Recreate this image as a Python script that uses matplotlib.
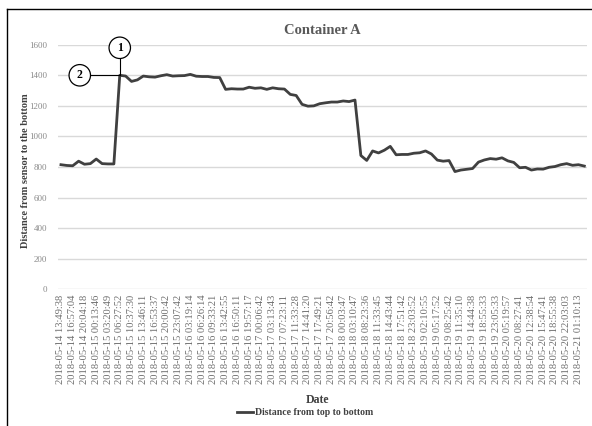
import numpy as np
import matplotlib
matplotlib.use('Agg')
import matplotlib.pyplot as plt
from matplotlib.lines import Line2D

plt.rcParams['font.family'] = ['Liberation Serif', 'DejaVu Serif']

# tick labels (every other reading is labelled)
tick_labels = [
    '2018-05-14 13:49:38', '2018-05-14 16:57:04', '2018-05-14 20:04:18',
    '2018-05-15 00:13:46', '2018-05-15 03:20:49', '2018-05-15 06:27:52',
    '2018-05-15 10:37:30', '2018-05-15 13:46:11', '2018-05-15 16:53:37',
    '2018-05-15 20:00:42', '2018-05-15 23:07:42', '2018-05-16 03:19:14',
    '2018-05-16 06:26:14', '2018-05-16 09:33:21', '2018-05-16 13:42:55',
    '2018-05-16 16:50:11', '2018-05-16 19:57:17', '2018-05-17 00:06:42',
    '2018-05-17 03:13:43', '2018-05-17 07:23:11', '2018-05-17 11:33:28',
    '2018-05-17 14:41:20', '2018-05-17 17:49:21', '2018-05-17 20:56:42',
    '2018-05-18 00:03:47', '2018-05-18 03:10:47', '2018-05-18 08:23:36',
    '2018-05-18 11:33:45', '2018-05-18 14:43:44', '2018-05-18 17:51:42',
    '2018-05-18 23:03:52', '2018-05-19 02:10:55', '2018-05-19 05:17:52',
    '2018-05-19 08:25:42', '2018-05-19 11:35:10', '2018-05-19 14:44:38',
    '2018-05-19 18:55:33', '2018-05-19 23:05:33', '2018-05-20 05:19:57',
    '2018-05-20 08:27:41', '2018-05-20 12:38:54', '2018-05-20 15:47:41',
    '2018-05-20 18:55:38', '2018-05-20 22:03:03', '2018-05-21 01:10:13',
]

# distance readings
distance = [
    815, 810, 808, 838, 818, 822, 852, 822, 820, 820,
    1400, 1395, 1360, 1370, 1395, 1390, 1388, 1397, 1404, 1395,
    1397, 1398, 1406, 1394, 1392, 1392, 1386, 1385, 1308, 1312,
    1310, 1310, 1322, 1315, 1318, 1308, 1318, 1312, 1310, 1275,
    1268, 1210, 1198, 1200, 1214, 1220, 1225, 1225, 1232, 1228,
    1238, 875, 843, 905, 892, 910, 935, 880, 882, 882,
    890, 893, 905, 885, 845, 838, 842, 770, 780, 785,
    790, 832, 846, 855, 851, 860, 840, 830, 795, 798,
    780, 787, 786, 798, 803, 815, 822, 811, 815, 806,
]

x = np.arange(len(distance))

fig = plt.figure(figsize=(5.92, 4.26), dpi=100)
ax = fig.add_axes([0.098, 0.321, 0.894, 0.574])

ax.plot(x, distance, color='#404040', lw=2, solid_joinstyle='round')

ax.set_xlim(-0.5, len(distance) - 0.5)
ax.set_ylim(0, 1600)
ax.set_yticks(np.arange(0, 1601, 200))
ax.set_xticks(x[::2])
ax.set_xticklabels(tick_labels, rotation=90, fontsize=7.6, color='#6e6e6e')
ax.tick_params(axis='y', labelsize=6.5, labelcolor='#8a8a8a', length=0, pad=8)
ax.tick_params(axis='x', length=0, pad=4)
ax.grid(axis='y', color='#d9d9d9', lw=1)
ax.set_axisbelow(True)
for s in ax.spines.values():
    s.set_visible(False)

# callouts
ax.plot([10, 10], [1400, 1560], color='black', lw=0.8, clip_on=False)
ax.plot([3.2, 10], [1400, 1400], color='black', lw=0.8, clip_on=False)
ax.text(10, 1580, '1', ha='center', va='center', fontsize=8.5, fontweight='bold',
        bbox=dict(boxstyle='circle,pad=0.4', fc='white', ec='black', lw=0.9), clip_on=False)
ax.text(3.2, 1400, '2', ha='center', va='center', fontsize=8.5, fontweight='bold',
        bbox=dict(boxstyle='circle,pad=0.4', fc='white', ec='black', lw=0.9))

fig.text(0.544, 0.928, 'Container A', ha='center', va='center', fontsize=10.5,
         fontweight='bold', color='#595959')
fig.text(0.043, 0.6, 'Distance from sensor to the bottom', rotation=90, ha='center',
         va='center', fontsize=7.5, fontweight='bold', color='#404040')
fig.text(0.537, 0.06, 'Date', ha='center', va='center', fontsize=8.5,
         fontweight='bold', color='#404040')

handle = Line2D([], [], color='#404040', lw=2)
fig.legend([handle], ['Distance from top to bottom'], loc='center',
           bbox_to_anchor=(0.515, 0.031), frameon=False, handlelength=1.6,
           handletextpad=0.2, prop={'size': 7, 'weight': 'bold'},
           labelcolor='#404040')

# frame lines at top and left of the picture
fig.add_artist(Line2D([0.012, 1.0], [0.979, 0.979], color='black', lw=1))
fig.add_artist(Line2D([0.012, 0.012], [0.0, 0.979], color='black', lw=1))

fig.savefig('out.png', dpi=100)
